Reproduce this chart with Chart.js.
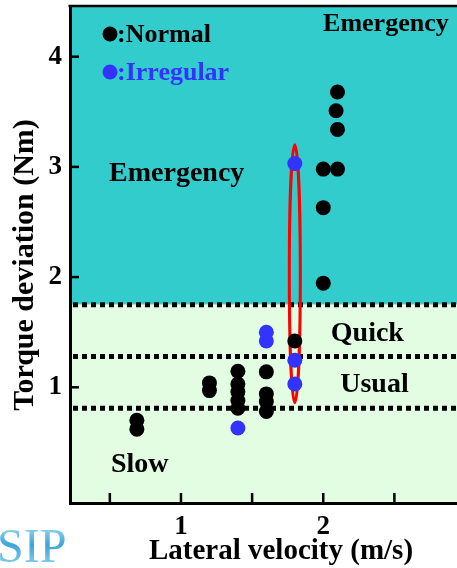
<!DOCTYPE html>
<html>
<head>
<meta charset="utf-8">
<script src="https://cdn.jsdelivr.net/npm/chart.js@4.4.1/dist/chart.umd.min.js"></script>
<style>
    html, body { margin: 0; padding: 0; background: #ffffff; }
    canvas { display: block; }
</style>
</head>
<body>
<canvas id="chartTorque" width="457" height="568"></canvas>
<script>
// values
const normalX = [0.69, 0.69, 1.2, 1.2, 1.4, 1.4, 1.4, 1.4, 1.4, 1.6, 1.6, 1.6, 1.6, 1.8, 2.0, 2.0, 2.0, 2.1, 2.1, 2.09, 2.1];
const normalY = [0.70, 0.62, 1.04, 0.97, 1.145, 1.03, 0.96, 0.88, 0.81, 1.14, 0.94, 0.87, 0.78, 1.42, 1.945, 2.63, 2.98, 2.98, 3.34, 3.51, 3.68];
const irregularX = [1.4, 1.6, 1.6, 1.8, 1.8, 1.8];
const irregularY = [0.63, 1.50, 1.42, 1.245, 1.03, 3.03];

const xTickValues = [0.5, 1, 1.5, 2, 2.5];
const xTickLabels = ['', '1', '', '2', ''];
const yTickValues = [1, 2, 3, 4];
const yTickLabels = ['1', '2', '3', '4'];

// zone limits (Nm): slow / usual / quick / emergency
const zoneLimits = [0.81, 1.28, 1.75];
const zoneNames = ['Slow', 'Usual', 'Quick', 'Emergency', 'Emergency'];
const zoneLabelX = [0.71, 2.36, 2.31, 0.97, 2.44];
const zoneLabelY = [0.30, 1.02, 1.49, 2.94, 4.29];

// irregular samples circled at 1.8 m/s
const circledX = 1.8;
const circledYRange = [0.86, 3.2];

const SERIF = '"Liberation Serif", "Times New Roman", serif';
const CYAN = '#33cccc';
const PALE_GREEN = '#e2fde2';
const BLUE = '#3333ff';
const zoneFontSizes = [28, 28, 28, 28, 26];

const zonesPlugin = {
    id: 'zones',
    beforeDraw: (chart) => {
        const { ctx, chartArea: a, scales: { y } } = chart;
        const yEm = y.getPixelForValue(zoneLimits[2]);
        ctx.save();
        ctx.fillStyle = CYAN;
        ctx.fillRect(a.left, a.top, a.right - a.left, yEm - a.top);
        ctx.fillStyle = PALE_GREEN;
        ctx.fillRect(a.left, yEm, a.right - a.left, a.bottom - yEm);
        ctx.restore();
    },
    beforeDatasetsDraw: (chart) => {
        const { ctx, chartArea: a, scales: { x, y } } = chart;
        ctx.save();
        // dotted limits
        ctx.strokeStyle = '#000';
        ctx.lineWidth = 5;
        ctx.setLineDash([5, 4]);
        zoneLimits.forEach((v) => {
            const py = y.getPixelForValue(v);
            ctx.beginPath();
            ctx.moveTo(a.left + 3, py);
            ctx.lineTo(a.right, py);
            ctx.stroke();
        });
        ctx.setLineDash([]);

        // red ellipse round the irregular column
        const cx = x.getPixelForValue(circledX);
        const yTop = y.getPixelForValue(circledYRange[1]);
        const yBot = y.getPixelForValue(circledYRange[0]);
        ctx.strokeStyle = '#ff0000';
        ctx.lineWidth = 3;
        ctx.beginPath();
        ctx.ellipse(cx, (yTop + yBot) / 2, 5.5, (yBot - yTop) / 2, 0, 0, Math.PI * 2);
        ctx.stroke();

        // zone names
        ctx.fillStyle = '#000';
        ctx.textAlign = 'center';
        ctx.textBaseline = 'middle';
        zoneNames.forEach((name, i) => {
            ctx.font = 'bold ' + zoneFontSizes[i] + 'px ' + SERIF;
            ctx.fillText(name, x.getPixelForValue(zoneLabelX[i]), y.getPixelForValue(zoneLabelY[i]));
        });
        ctx.restore();
    },
    afterDraw: (chart) => {
        const { ctx, chartArea: a, scales: { x, y } } = chart;
        ctx.save();
        // top frame line
        ctx.strokeStyle = '#000';
        ctx.lineWidth = 2.5;
        ctx.beginPath();
        ctx.moveTo(a.left - 1.5, a.top);
        ctx.lineTo(a.right, a.top);
        ctx.stroke();

        // inward tick marks
        ctx.lineWidth = 2.5;
        yTickValues.forEach((v) => {
            const py = y.getPixelForValue(v);
            ctx.beginPath();
            ctx.moveTo(a.left, py);
            ctx.lineTo(a.left + 9, py);
            ctx.stroke();
        });
        xTickValues.forEach((v) => {
            const px = x.getPixelForValue(v);
            ctx.beginPath();
            ctx.moveTo(px, a.bottom);
            ctx.lineTo(px, a.bottom - 10);
            ctx.stroke();
        });

        // legend
        ctx.font = 'bold 26px ' + SERIF;
        ctx.textAlign = 'left';
        ctx.textBaseline = 'middle';
        const legendRows = [34, 72];
        chart.data.datasets.forEach((ds, i) => {
            ctx.fillStyle = ds.backgroundColor;
            ctx.beginPath();
            ctx.arc(110, legendRows[i], 7.5, 0, Math.PI * 2);
            ctx.fill();
            ctx.fillText(':' + ds.label, 117, legendRows[i] + 1);
        });

        // axis titles
        ctx.fillStyle = '#000';
        ctx.font = 'bold 29px ' + SERIF;
        ctx.textAlign = 'center';
        ctx.fillText('Lateral velocity (m/s)', 281, 552);
        ctx.save();
        ctx.translate(25, 265);
        ctx.rotate(-Math.PI / 2);
        ctx.font = 'bold 30px ' + SERIF;
        ctx.fillText('Torque deviation (Nm)', 0, 0);
        ctx.restore();

        // publisher watermark
        const grad = ctx.createLinearGradient(0, 528, 0, 562);
        grad.addColorStop(0, '#8fd3ee');
        grad.addColorStop(0.5, '#3aa6d6');
        grad.addColorStop(1, '#7cc8e8');
        ctx.fillStyle = grad;
        ctx.font = '48px ' + SERIF;
        ctx.textAlign = 'left';
        ctx.textBaseline = 'alphabetic';
        ctx.fillText('SIP', -3, 562);
        ctx.restore();
    }
};

const toPoints = (xs, ys) => xs.map((v, i) => ({ x: v, y: ys[i] }));

const torqueChart = new Chart('chartTorque', {
    type: 'scatter',
    data: {
        datasets: [{
            label: 'Normal',
            data: toPoints(normalX, normalY),
            backgroundColor: '#000000',
            borderWidth: 0,
            pointRadius: 7.5,
            pointHoverRadius: 7.5
        }, {
            label: 'Irregular',
            data: toPoints(irregularX, irregularY),
            backgroundColor: BLUE,
            borderWidth: 0,
            pointRadius: 7.5,
            pointHoverRadius: 7.5
        }]
    },
    options: {
        responsive: false,
        devicePixelRatio: 1,
        animation: false,
        layout: {
            autoPadding: false,
            padding: { top: 6, right: 0, left: 0, bottom: 0 }
        },
        plugins: {
            legend: { display: false },
            tooltip: { enabled: false }
        },
        scales: {
            x: {
                type: 'linear',
                min: 0.22,
                max: 2.94,
                afterFit: (scale) => {
                    scale.height = 65;
                    scale.paddingLeft = 0;
                    scale.paddingRight = 0;
                },
                afterBuildTicks: (scale) => {
                    scale.ticks = xTickValues.map((v) => ({ value: v }));
                },
                grid: { display: false, drawTicks: false },
                border: { display: true, color: '#000', width: 3 },
                ticks: {
                    padding: 8,
                    color: '#000',
                    maxRotation: 0,
                    autoSkip: false,
                    font: { family: SERIF, size: 27, weight: 'bold' },
                    callback: (value, index) => xTickLabels[index]
                }
            },
            y: {
                type: 'linear',
                min: -0.05,
                max: 4.46,
                afterFit: (scale) => {
                    scale.width = 70;
                    scale.paddingTop = 0;
                    scale.paddingBottom = 0;
                },
                afterBuildTicks: (scale) => {
                    scale.ticks = yTickValues.map((v) => ({ value: v }));
                },
                grid: { display: false, drawTicks: false },
                border: { display: true, color: '#000', width: 3 },
                ticks: {
                    padding: 8,
                    color: '#000',
                    autoSkip: false,
                    font: { family: SERIF, size: 27, weight: 'bold' },
                    callback: (value, index) => yTickLabels[index]
                }
            }
        }
    },
    plugins: [zonesPlugin]
});
</script>
</body>
</html>
